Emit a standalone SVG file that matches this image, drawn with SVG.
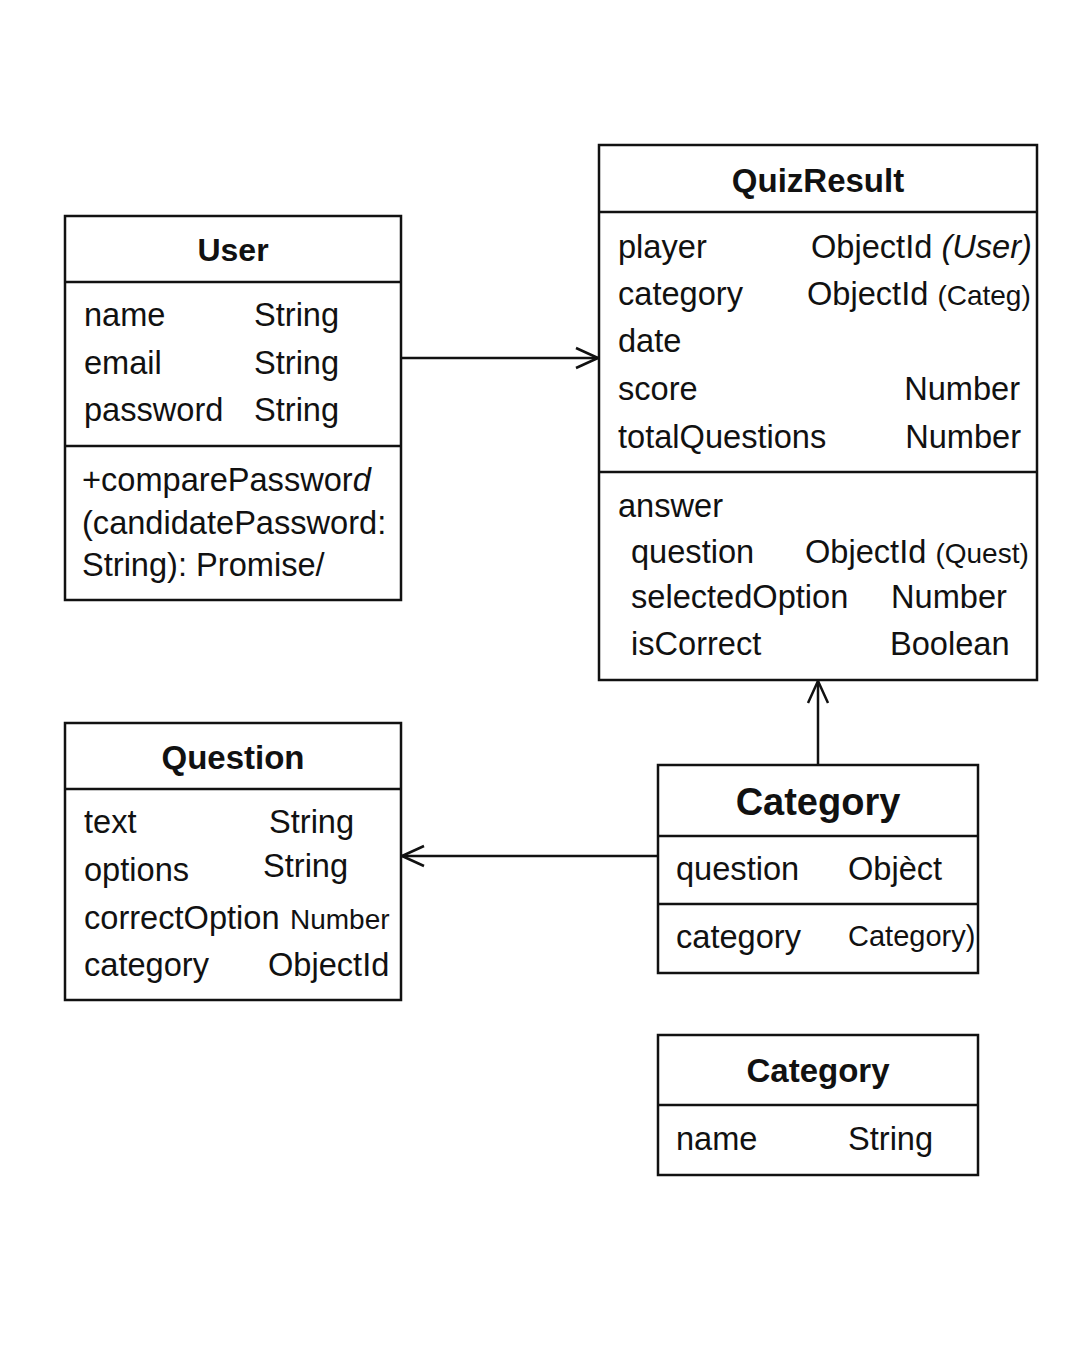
<svg xmlns="http://www.w3.org/2000/svg" width="1080" height="1350" viewBox="0 0 1080 1350">
<defs>
<style>
.box{fill:#fff;stroke:#111;stroke-width:2.5}
.sep{stroke:#111;stroke-width:2.5}
.t{font-family:"Liberation Sans",Arial,sans-serif;font-size:32.6px;fill:#111}
.title{font-family:"Liberation Sans",Arial,sans-serif;font-weight:bold;fill:#111;text-anchor:middle}
.sm{font-size:28px}
.conn{stroke:#111;stroke-width:2.5;fill:none}
</style>
<marker id="open" viewBox="0 0 24 24" refX="23" refY="12" markerWidth="24" markerHeight="24" markerUnits="userSpaceOnUse" orient="auto">
<path d="M1,2 L23,12 L1,22" fill="none" stroke="#111" stroke-width="2.5"/>
</marker>
</defs>
<rect width="1080" height="1350" fill="#fff"/>

<g id="connectors">
<line class="conn" x1="401" y1="358" x2="598" y2="358" marker-end="url(#open)"/>
<line class="conn" x1="818" y1="765" x2="818" y2="681" marker-end="url(#open)"/>
<line class="conn" x1="658" y1="856" x2="402" y2="856" marker-end="url(#open)"/>
</g>

<g id="user">
<rect class="box" x="65" y="216" width="336" height="384"/>
<line class="sep" x1="65" y1="282" x2="401" y2="282"/>
<line class="sep" x1="65" y1="446" x2="401" y2="446"/>
<text class="title" x="233" y="261" font-size="32">User</text>
<text class="t" x="84" y="326">name</text><text class="t" x="254" y="326">String</text>
<text class="t" x="84" y="374">email</text><text class="t" x="254" y="374">String</text>
<text class="t" x="84" y="421">password</text><text class="t" x="254" y="421">String</text>
<text class="t" x="82" y="491">+comparePasswor<tspan font-style="italic">d</tspan></text>
<text class="t" x="82" y="534">(candidatePassword:</text>
<text class="t" x="82" y="576">String): Promise/</text>
</g>

<g id="quizresult">
<rect class="box" x="599" y="145" width="438" height="535"/>
<line class="sep" x1="599" y1="212" x2="1037" y2="212"/>
<line class="sep" x1="599" y1="472" x2="1037" y2="472"/>
<text class="title" x="818" y="192" font-size="33">QuizResult</text>
<text class="t" x="618" y="258">player</text><text class="t" x="811" y="258">ObjectId <tspan font-style="italic">(User)</tspan></text>
<text class="t" x="618" y="305">category</text><text class="t" x="807" y="305">ObjectId <tspan class="sm">(Categ)</tspan></text>
<text class="t" x="618" y="352">date</text>
<text class="t" x="618" y="400">score</text><text class="t" x="1020" y="400" text-anchor="end">Number</text>
<text class="t" x="618" y="448">totalQuestions</text><text class="t" x="1021" y="448" text-anchor="end">Number</text>
<text class="t" x="618" y="517">answer</text>
<text class="t" x="631" y="563">question</text><text class="t" x="805" y="563">ObjectId <tspan class="sm">(Quest)</tspan></text>
<text class="t" x="631" y="608">selectedOption</text><text class="t" x="891" y="608">Number</text>
<text class="t" x="631" y="655">isCorrect</text><text class="t" x="890" y="655">Boolean</text>
</g>

<g id="question">
<rect class="box" x="65" y="723" width="336" height="277"/>
<line class="sep" x1="65" y1="789" x2="401" y2="789"/>
<text class="title" x="233" y="769" font-size="33">Question</text>
<text class="t" x="84" y="833">text</text><text class="t" x="269" y="833">String</text>
<text class="t" x="84" y="881">options</text><text class="t" x="263" y="877">String</text>
<text class="t" x="84" y="929">correctOption</text><text class="t sm" x="290" y="929">Number</text>
<text class="t" x="84" y="976">category</text><text class="t" x="268" y="976">ObjectId</text>
</g>

<g id="category-ref">
<rect class="box" x="658" y="765" width="320" height="208"/>
<line class="sep" x1="658" y1="836" x2="978" y2="836"/>
<line class="sep" x1="658" y1="904" x2="978" y2="904"/>
<text class="title" x="818" y="815" font-size="38">Category</text>
<text class="t" x="676" y="880">question</text><text class="t" x="848" y="880">Objèct</text>
<text class="t" x="676" y="948">category</text><text class="t" x="848" y="946" style="font-size:29px">Category)</text>
</g>

<g id="category">
<rect class="box" x="658" y="1035" width="320" height="140"/>
<line class="sep" x1="658" y1="1105" x2="978" y2="1105"/>
<text class="title" x="818" y="1082" font-size="33">Category</text>
<text class="t" x="676" y="1150">name</text><text class="t" x="848" y="1150">String</text>
</g>
</svg>
